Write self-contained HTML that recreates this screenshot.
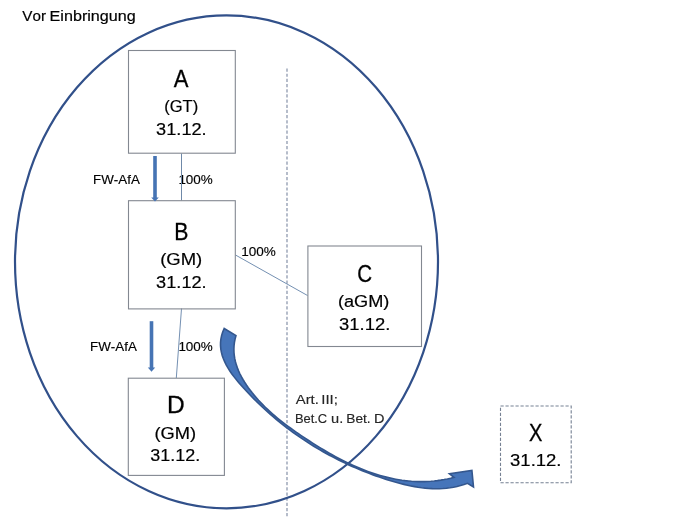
<!DOCTYPE html>
<html><head><meta charset="utf-8"><style>html,body{margin:0;padding:0;background:#fff;width:690px;height:517px;overflow:hidden}svg{display:block;will-change:transform}</style></head>
<body><svg width="690" height="517" viewBox="0 0 690 517">
<rect width="690" height="517" fill="#fff"/>
<g style="font-family:'Liberation Sans',sans-serif;font-kerning:none">
<text x="22.33" y="20.80" font-size="15.5" textLength="23.62" lengthAdjust="spacingAndGlyphs" fill="#000" stroke="#000" stroke-width="0.2">Vor</text>
<text x="49.58" y="20.80" font-size="15.5" textLength="86.16" lengthAdjust="spacingAndGlyphs" fill="#000" stroke="#000" stroke-width="0.2">Einbringung</text>
<text x="173.86" y="87.00" font-size="24" textLength="14.69" lengthAdjust="spacingAndGlyphs" fill="#000" stroke="#000" stroke-width="0.3">A</text>
<text x="164.17" y="112.20" font-size="17.2" textLength="34.06" lengthAdjust="spacingAndGlyphs" fill="#000" stroke="#000" stroke-width="0.2">(GT)</text>
<text x="156.11" y="134.80" font-size="17.2" textLength="50.55" lengthAdjust="spacingAndGlyphs" fill="#000" stroke="#000" stroke-width="0.2">31.12.</text>
<text x="174.36" y="239.70" font-size="24" textLength="14.16" lengthAdjust="spacingAndGlyphs" fill="#000" stroke="#000" stroke-width="0.3">B</text>
<text x="160.15" y="265.00" font-size="17.2" textLength="42.09" lengthAdjust="spacingAndGlyphs" fill="#000" stroke="#000" stroke-width="0.2">(GM)</text>
<text x="156.11" y="288.40" font-size="17.2" textLength="50.55" lengthAdjust="spacingAndGlyphs" fill="#000" stroke="#000" stroke-width="0.2">31.12.</text>
<text x="357.16" y="281.60" font-size="24" textLength="14.82" lengthAdjust="spacingAndGlyphs" fill="#000" stroke="#000" stroke-width="0.3">C</text>
<text x="337.97" y="307.00" font-size="17.2" textLength="51.45" lengthAdjust="spacingAndGlyphs" fill="#000" stroke="#000" stroke-width="0.2">(aGM)</text>
<text x="339.10" y="330.20" font-size="17.2" textLength="51.18" lengthAdjust="spacingAndGlyphs" fill="#000" stroke="#000" stroke-width="0.2">31.12.</text>
<text x="166.99" y="413.00" font-size="24" textLength="17.68" lengthAdjust="spacingAndGlyphs" fill="#000" stroke="#000" stroke-width="0.3">D</text>
<text x="154.47" y="438.80" font-size="17.2" textLength="41.67" lengthAdjust="spacingAndGlyphs" fill="#000" stroke="#000" stroke-width="0.2">(GM)</text>
<text x="150.32" y="461.30" font-size="17.2" textLength="49.92" lengthAdjust="spacingAndGlyphs" fill="#000" stroke="#000" stroke-width="0.2">31.12.</text>
<text x="529.05" y="440.90" font-size="24" textLength="13.37" lengthAdjust="spacingAndGlyphs" fill="#000" stroke="#000" stroke-width="0.3">X</text>
<text x="510.10" y="466.30" font-size="17.2" textLength="51.39" lengthAdjust="spacingAndGlyphs" fill="#000" stroke="#000" stroke-width="0.2">31.12.</text>
<text x="93.10" y="184.30" font-size="13.5" textLength="46.72" lengthAdjust="spacingAndGlyphs" fill="#000" stroke="#000" stroke-width="0.15">FW-AfA</text>
<text x="178.38" y="184.20" font-size="13.5" textLength="34.40" lengthAdjust="spacingAndGlyphs" fill="#000" stroke="#000" stroke-width="0.15">100%</text>
<text x="241.17" y="255.80" font-size="13.5" textLength="34.61" lengthAdjust="spacingAndGlyphs" fill="#000" stroke="#000" stroke-width="0.15">100%</text>
<text x="90.10" y="350.60" font-size="13.5" textLength="46.72" lengthAdjust="spacingAndGlyphs" fill="#000" stroke="#000" stroke-width="0.15">FW-AfA</text>
<text x="178.38" y="350.60" font-size="13.5" textLength="34.40" lengthAdjust="spacingAndGlyphs" fill="#000" stroke="#000" stroke-width="0.15">100%</text>
<text x="295.72" y="404.00" font-size="13" textLength="23.14" lengthAdjust="spacingAndGlyphs" fill="#262626" stroke="#262626" stroke-width="0.15">Art.</text>
<text x="321.21" y="404.00" font-size="13" textLength="16.74" lengthAdjust="spacingAndGlyphs" fill="#262626" stroke="#262626" stroke-width="0.15">III;</text>
<text x="294.94" y="422.70" font-size="13" textLength="32.25" lengthAdjust="spacingAndGlyphs" fill="#262626" stroke="#262626" stroke-width="0.15">Bet.C</text>
<text x="331.05" y="422.70" font-size="13" textLength="12.18" lengthAdjust="spacingAndGlyphs" fill="#262626" stroke="#262626" stroke-width="0.15">u.</text>
<text x="346.28" y="422.70" font-size="13" textLength="24.38" lengthAdjust="spacingAndGlyphs" fill="#262626" stroke="#262626" stroke-width="0.15">Bet.</text>
<text x="374.11" y="422.70" font-size="13" textLength="10.49" lengthAdjust="spacingAndGlyphs" fill="#262626" stroke="#262626" stroke-width="0.15">D</text>
</g>
<!-- dashed vertical -->
<line x1="287" y1="68.5" x2="287" y2="517" stroke="#7a87a0" stroke-width="1.1" stroke-dasharray="3.2 1.97"/>
<!-- connectors -->
<line x1="181.5" y1="153.5" x2="181.5" y2="200.5" stroke="#6f89a8" stroke-width="1"/>
<line x1="181.5" y1="308.5" x2="176.3" y2="378" stroke="#7490b2" stroke-width="1"/>
<line x1="235.5" y1="255" x2="307.5" y2="295.5" stroke="#7490b2" stroke-width="1"/>
<!-- boxes -->
<g fill="none" stroke="#838891" stroke-width="1.1">
<rect x="128.5" y="50.5" width="106.8" height="102.7"/>
<rect x="128.5" y="200.7" width="106.8" height="108.2"/>
<rect x="307.9" y="246" width="113.6" height="100.5"/>
<rect x="128.3" y="378.2" width="96.1" height="97.2"/>
</g>
<rect x="500.5" y="406" width="70.7" height="76.8" fill="none" stroke="#768193" stroke-width="1.1" stroke-dasharray="3.2 1.8"/>
<!-- straight arrows -->
<g fill="#4674B4">
<rect x="153.2" y="156" width="3.6" height="42.5"/>
<path d="M151.2,197.6 L158.8,197.6 L155,201.6 Z"/>
<rect x="149.7" y="321.2" width="3.6" height="47"/>
<path d="M147.8,367.6 L155.2,367.6 L151.5,371.8 Z"/>
</g>
<!-- ellipse -->
<ellipse cx="226.5" cy="261.85" rx="211.5" ry="246.45" fill="none" stroke="#31508A" stroke-width="2.2"/>
<!-- curved arrow -->
<path d="M224.18,328.52 L222.69,332.09 L221.60,335.60 L220.90,339.06 L220.54,342.46 L220.53,345.82 L220.82,349.14 L221.42,352.41 L222.28,355.64 L223.40,358.83 L224.75,361.98 L226.32,365.09 L228.08,368.16 L230.01,371.19 L232.09,374.18 L234.30,377.13 L236.63,380.04 L239.04,382.91 L241.51,385.75 L244.03,388.54 L246.58,391.30 L249.15,394.01 L251.73,396.69 L254.33,399.32 L256.95,401.92 L259.59,404.48 L262.25,407.00 L264.93,409.48 L267.63,411.92 L270.35,414.33 L273.09,416.70 L275.85,419.03 L278.63,421.33 L281.43,423.59 L284.26,425.82 L287.10,428.01 L289.97,430.17 L292.86,432.29 L295.78,434.38 L298.71,436.43 L301.67,438.46 L304.65,440.45 L307.66,442.40 L310.69,444.33 L313.75,446.22 L316.82,448.08 L319.93,449.91 L323.06,451.71 L326.21,453.48 L329.38,455.21 L332.58,456.91 L335.80,458.58 L339.04,460.21 L342.30,461.82 L345.58,463.38 L348.87,464.91 L352.19,466.41 L355.53,467.87 L358.89,469.30 L362.26,470.69 L365.65,472.04 L369.05,473.36 L372.47,474.64 L375.91,475.88 L379.36,477.09 L382.83,478.26 L386.30,479.38 L389.80,480.47 L393.30,481.52 L396.81,482.52 L400.34,483.48 L403.87,484.37 L407.40,485.20 L410.95,485.96 L414.50,486.64 L418.05,487.24 L421.60,487.75 L425.16,488.16 L428.71,488.47 L432.27,488.67 L435.82,488.75 L439.37,488.72 L442.91,488.55 L446.45,488.26 L449.99,487.82 L453.51,487.23 L457.03,486.50 L460.54,485.60 L464.04,484.54 L467.53,483.30 L473.5,487.0 L471.9,470.4 L449.4,473.7 L454.00,477.33 L450.67,478.17 L447.36,478.91 L444.06,479.56 L440.76,480.12 L437.47,480.59 L434.20,480.96 L430.93,481.25 L427.67,481.46 L424.42,481.58 L421.19,481.62 L417.96,481.58 L414.74,481.46 L411.53,481.26 L408.34,480.99 L405.15,480.65 L401.97,480.23 L398.81,479.74 L395.65,479.18 L392.51,478.56 L389.38,477.87 L386.26,477.12 L383.15,476.31 L380.06,475.44 L376.97,474.51 L373.90,473.52 L370.83,472.48 L367.78,471.39 L364.75,470.24 L361.72,469.05 L358.71,467.80 L355.71,466.52 L352.72,465.18 L349.74,463.81 L346.78,462.39 L343.83,460.93 L340.89,459.44 L337.97,457.91 L335.06,456.35 L332.16,454.75 L329.28,453.13 L326.40,451.47 L323.55,449.79 L320.70,448.08 L317.87,446.35 L315.05,444.59 L312.25,442.82 L309.46,441.03 L306.69,439.21 L303.93,437.39 L301.18,435.55 L298.45,433.69 L295.73,431.81 L293.04,429.92 L290.37,428.00 L287.72,426.05 L285.10,424.09 L282.51,422.09 L279.94,420.07 L277.41,418.01 L274.91,415.92 L272.45,413.80 L270.03,411.64 L267.64,409.45 L265.30,407.21 L263.00,404.93 L260.75,402.61 L258.54,400.25 L256.38,397.83 L254.28,395.37 L252.23,392.86 L250.24,390.29 L248.30,387.68 L246.44,385.00 L244.66,382.28 L242.97,379.50 L241.38,376.67 L239.91,373.79 L238.57,370.86 L237.38,367.88 L236.34,364.85 L235.46,361.78 L234.77,358.66 L234.27,355.49 L233.97,352.29 L233.89,349.04 L234.04,345.75 L234.43,342.43 L235.07,339.07 L235.98,335.68 Z" fill="#4675BA" stroke="#34578E" stroke-width="1.6" stroke-linejoin="miter"/>
</svg></body></html>
